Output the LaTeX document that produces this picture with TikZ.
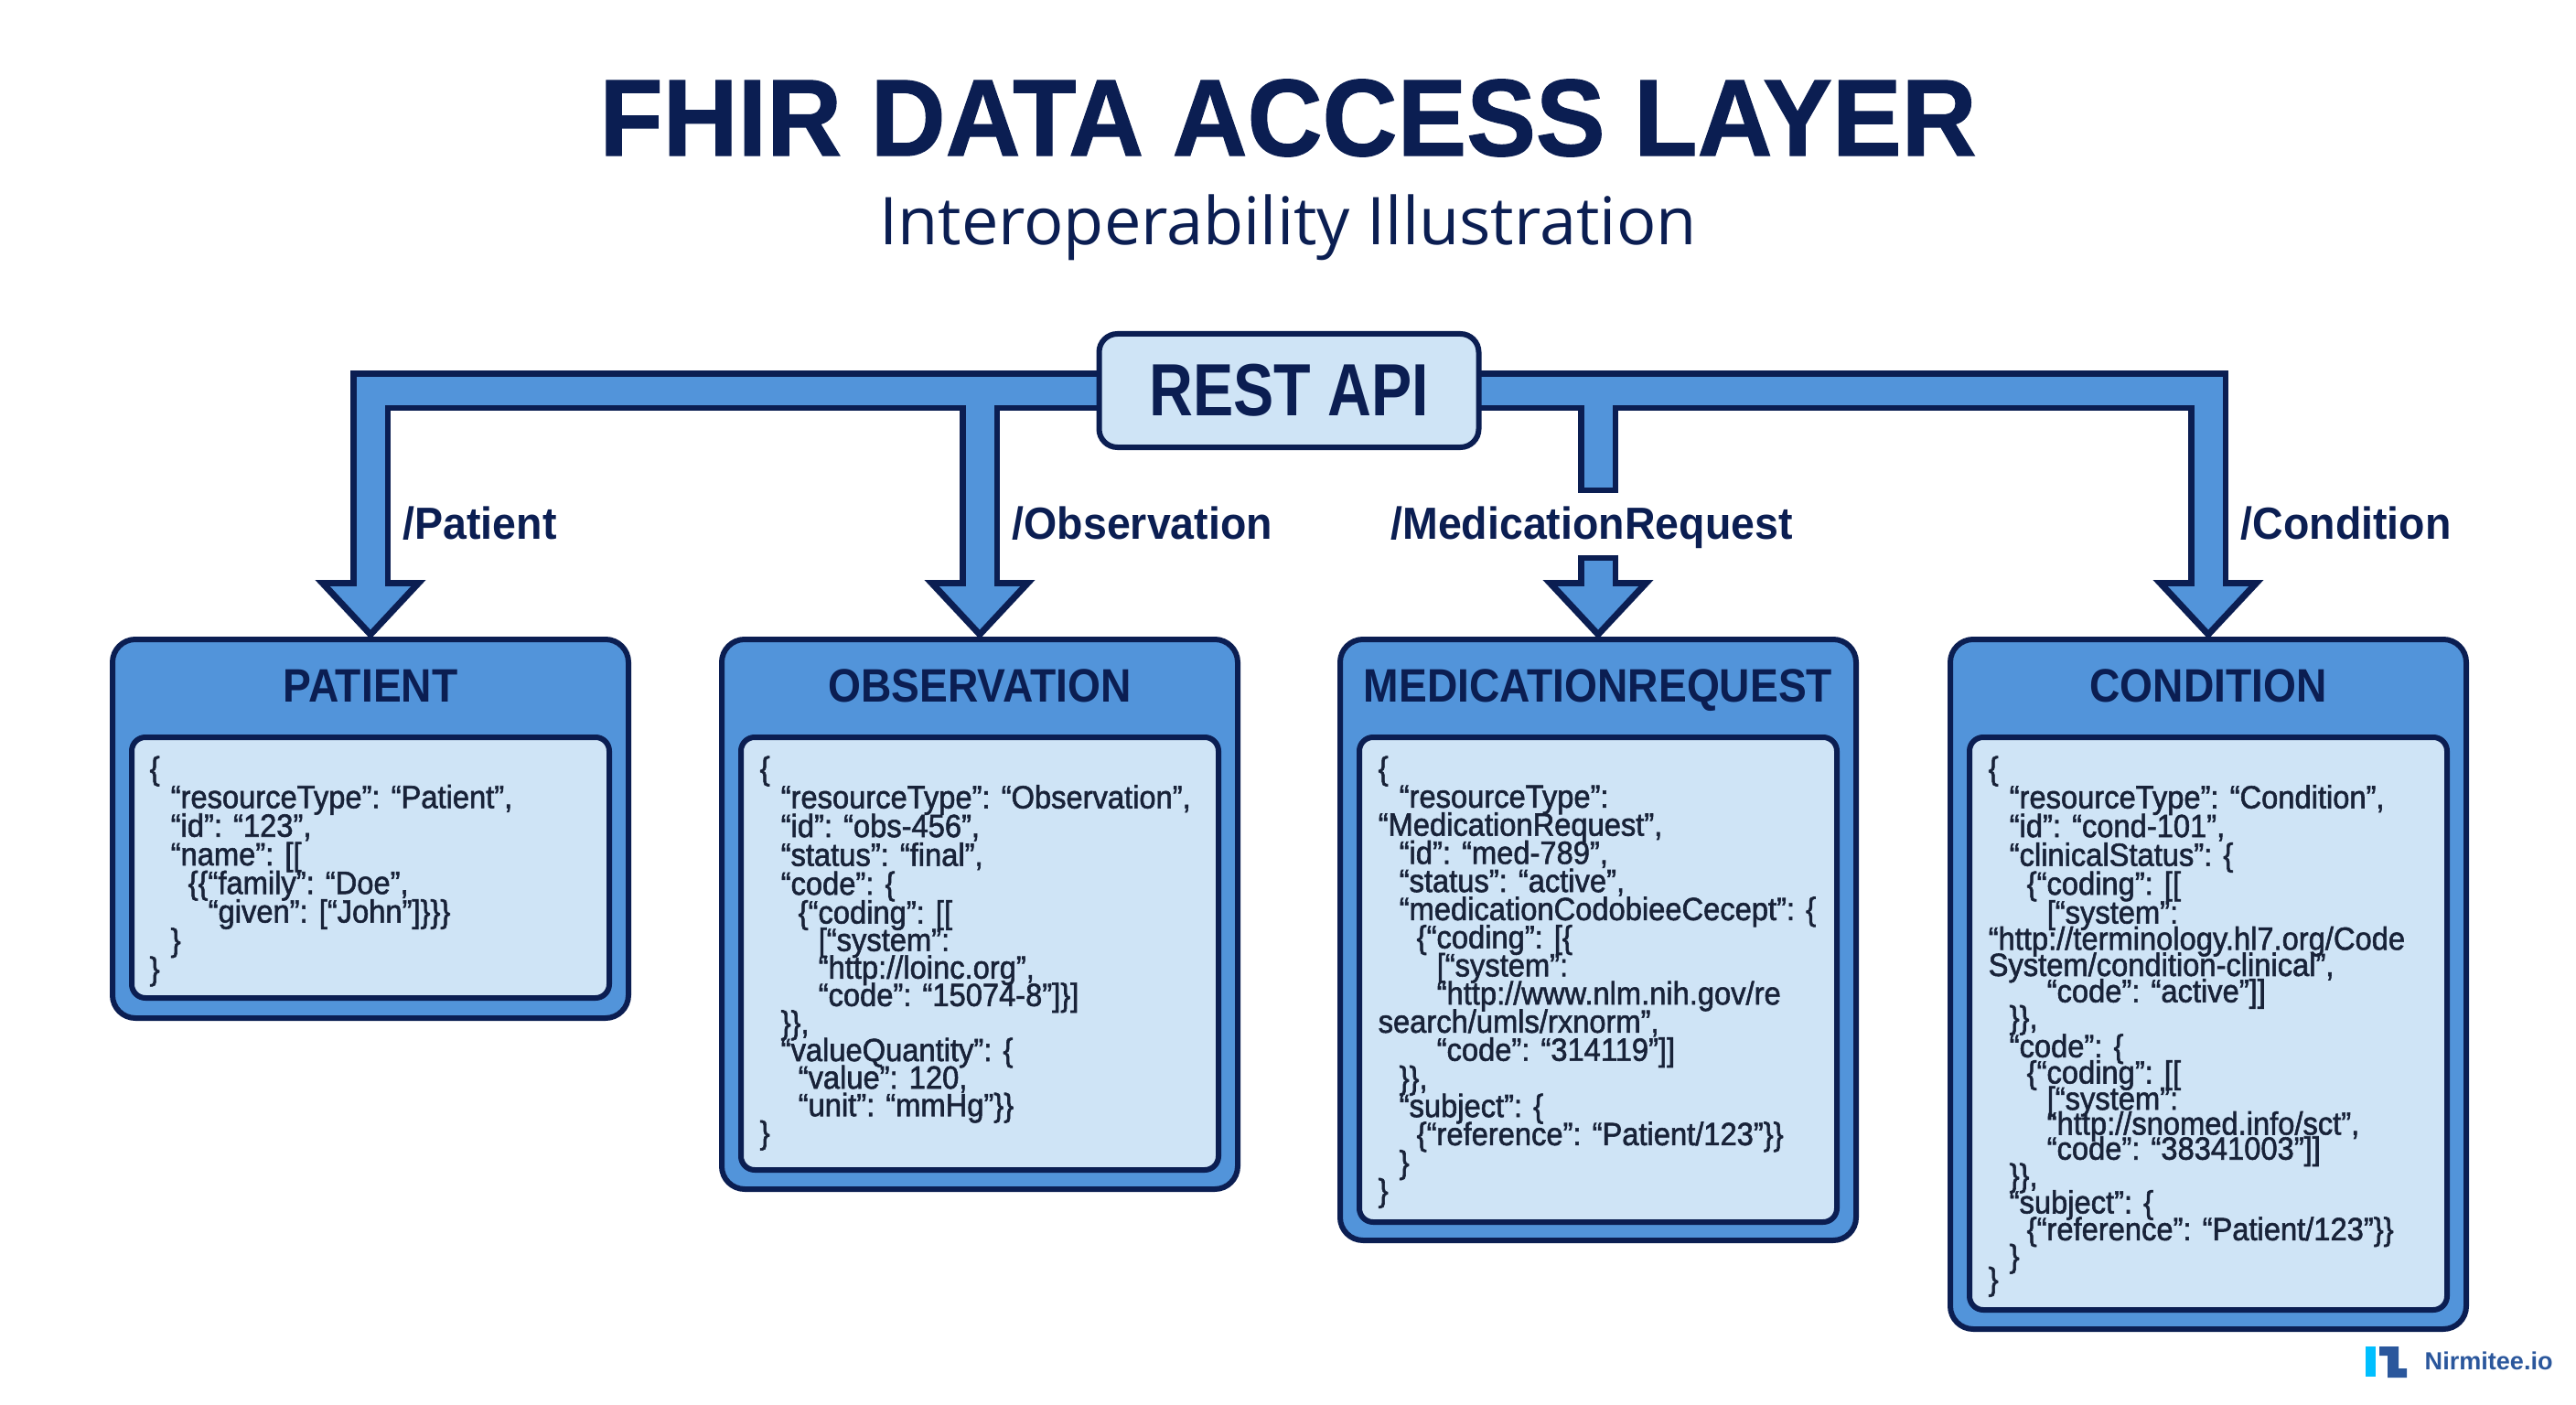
\documentclass[tikz,border=0pt]{standalone}
\usepackage{fontspec}
\setmainfont{Liberation Sans}
\newfontfamily\jsonfont[FakeStretch=0.93,FakeBold=1.6]{Liberation Sans}
\newfontfamily\headfont[FakeStretch=0.9]{Liberation Sans}
\newfontfamily\labelfont[FakeStretch=0.945]{Liberation Sans}
\newfontfamily\apifont[FakeStretch=0.82]{Liberation Sans}
\newfontfamily\titlefont[FakeStretch=0.95,FakeBold=1]{Liberation Sans}
\newfontfamily\subfont{Open Sans}
\usetikzlibrary{positioning,arrows.meta,backgrounds}
\definecolor{FhirNavy}{HTML}{0B1E52}
\definecolor{FhirBlue}{HTML}{5294DA}
\definecolor{FhirLight}{HTML}{CFE4F6}
\definecolor{FhirInk}{HTML}{182238}
\definecolor{LogoCyan}{HTML}{00BFFF}
\definecolor{LogoBlue}{HTML}{2B579C}
\newcommand{\tabA}{\hspace*{0.23cm}}
\newcommand{\tabB}{\hspace*{0.42cm}}
\newcommand{\tabC}{\hspace*{0.64cm}}
\lineskiplimit=-20pt
\normallineskiplimit=-20pt
\tikzset{
  resbox/.style={draw=FhirNavy,fill=FhirBlue,line width=0.06cm,rounded corners=0.25cm,minimum width=5.64cm,outer sep=0pt,anchor=north},
  codebox/.style={draw=FhirNavy,fill=FhirLight,line width=0.06cm,rounded corners=0.15cm,minimum width=5.22cm,outer sep=0pt,anchor=north},
  restitle/.style={text=FhirNavy,font=\headfont\bfseries\fontsize{14.6}{16}\selectfont,text height=0.40cm,text depth=0.08cm},
  pathlabel/.style={text=FhirNavy,font=\labelfont\bfseries\fontsize{14}{15}\selectfont,inner sep=0pt,text height=0.42cm,text depth=0.09cm},
  jsontext/.style={text=FhirInk,align=left,inner sep=0pt,font=\jsonfont\fontsize{10}{#1}\selectfont},
  pipeout/.style={draw=FhirNavy,line width=0.44cm},
  pipein/.style={draw=FhirBlue,line width=0.31cm},
  headout/.style={-{Triangle[width=1.17cm,length=0.65cm]}},
  headin/.style={-{Triangle[width=0.85cm,length=0.475cm]},shorten >=0.105cm}
}
\begin{document}
\begin{tikzpicture}
  \useasboundingbox (0,0) rectangle (28.16,-15.36);

  % Title
  \node[text=FhirNavy,font=\titlefont\bfseries\fontsize{34}{40}\selectfont] (title) at (14.08,-1.29) {FHIR DATA ACCESS LAYER};
  \node[text=FhirNavy,font=\subfont\fontsize{20.5}{24}\selectfont] (subtitle) at (14.08,-2.49) {Interoperability Illustration};

  % API box
  \node[draw=FhirNavy,fill=FhirLight,line width=0.06cm,rounded corners=0.2cm,minimum width=4.15cm,minimum height=1.24cm,outer sep=0pt,text=FhirNavy,font=\apifont\bfseries\fontsize{23}{26}\selectfont] (api) at (14.09,-4.27) {REST API};

  % Resource boxes
  \node[resbox,minimum height=4.14cm] (patient) at (4.05,-6.99) {};
  \node[resbox,minimum height=6.01cm] (observation) at (10.71,-6.99) {};
  \node[resbox,minimum height=6.57cm] (medication) at (17.47,-6.99) {};
  \node[resbox,minimum height=7.54cm] (condition) at (24.14,-6.99) {};

  % Box headings
  \node[restitle] (patienttitle) at (4.05,-7.51) {PATIENT};
  \node[restitle] (observationtitle) at (10.71,-7.51) {OBSERVATION};
  \node[restitle] (medicationtitle) at (17.47,-7.51) {MEDICATIONREQUEST};
  \node[restitle] (conditiontitle) at (24.14,-7.51) {CONDITION};

  % Code panels
  \node[codebox,minimum height=2.85cm] (patientcode) at (4.05,-8.06) {};
  \node[codebox,minimum height=4.73cm] (observationcode) at (10.71,-8.06) {};
  \node[codebox,minimum height=5.30cm] (medicationcode) at (17.47,-8.06) {};
  \node[codebox,minimum height=6.26cm] (conditioncode) at (24.14,-8.06) {};

  % Path labels
  \node[pathlabel,anchor=west] (patientlabel) at (4.40,-5.73) {/Patient};
  \node[pathlabel,anchor=west] (observationlabel) at (11.06,-5.73) {/Observation};
  \node[pathlabel,minimum height=0.66cm] (medicationlabel) at (17.40,-5.73) {/MedicationRequest};
  \node[pathlabel,anchor=west] (conditionlabel) at (24.49,-5.73) {/Condition};

  % JSON
  \node[jsontext=8.9pt,below right=0.2cm and 0.19cm of patientcode.north west] (patientjson) {\{\\
    \tabA“resourceType”: “Patient”,\\
    \tabA“id”: “123”,\\
    \tabA“name”: [[\\
    \tabB\{\{“family”: “Doe”,\\
    \tabC“given”: [“John”]\}\}\}\\
    \tabA\}\\
    \}};
  \node[jsontext=8.96pt,below right=0.2cm and 0.2cm of observationcode.north west] (observationjson) {\{\\
    \tabA“resourceType”: “Observation”,\\
    \tabA“id”: “obs-456”,\\
    \tabA“status”: “final”,\\
    \tabA“code”: \{\\
    \tabB\{“coding”: [[\\[-0.4pt]
    \tabC[“system”:\\[-0.4pt]
    \tabC“http://loinc.org”,\\[-0.4pt]
    \tabC“code”: “15074-8”]\}]\\[-0.4pt]
    \tabA\}\},\\[-0.4pt]
    \tabA“valueQuantity”: \{\\[-0.4pt]
    \tabB“value”: 120,\\[-0.4pt]
    \tabB“unit”: “mmHg”\}\}\\[-0.4pt]
    \}};
  \node[jsontext=8.75pt,below right=0.2cm and 0.2cm of medicationcode.north west] (medicationjson) {\{\\
    \tabA“resourceType”:\\
    “MedicationRequest”,\\
    \tabA“id”: “med-789”,\\
    \tabA“status”: “active”,\\
    \tabA“medicationCodobieeCecept”: \{\\
    \tabB\{“coding”: [\{\\
    \tabC[“system”:\\
    \tabC“http://www.nlm.nih.gov/re\\
    search/umls/rxnorm”,\\
    \tabC“code”: “314119”]]\\
    \tabA\}\},\\
    \tabA“subject”: \{\\
    \tabB\{“reference”: “Patient/123”\}\}\\
    \tabA\}\\
    \}};
  \node[jsontext=8.96pt,below right=0.2cm and 0.2cm of conditioncode.north west] (conditionjson) {\{\\
    \tabA“resourceType”: “Condition”,\\
    \tabA“id”: “cond-101”,\\
    \tabA“clinicalStatus”: \{\\
    \tabB\{“coding”: [[\\
    \tabC[“system”:\\[-0.8pt]
    “http://terminology.hl7.org/Code\\[-0.8pt]
    System/condition-clinical”,\\[-0.8pt]
    \tabC“code”: “active”]]\\[-0.8pt]
    \tabA\}\},\\
    \tabA“code”: \{\\[-0.8pt]
    \tabB\{“coding”: [[\\[-0.8pt]
    \tabC[“system”:\\[-1.2pt]
    \tabC“http://snomed.info/sct”,\\[-1.2pt]
    \tabC“code”: “38341003”]]\\[-0.6pt]
    \tabA\}\},\\[-0.6pt]
    \tabA“subject”: \{\\[-0.6pt]
    \tabB\{“reference”: “Patient/123”\}\}\\[-0.6pt]
    \tabA\}\\[-1.8pt]
    \}};

  % Arrows, behind the boxes
  \begin{scope}[on background layer]
    \draw[pipeout,headout] (api.west) -| (patient.north);
    \draw[pipeout,headout] (api.west -| observation.north) -- (observation.north);
    \draw[pipeout,headout] (api.east) -| (condition.north);
    \draw[pipeout] (api.east -| medication.north) -- (medicationlabel.north -| medication.north);
    \draw[pipeout,headout] (medicationlabel.south -| medication.north) -- (medication.north);
    \draw[pipein,headin] (api.west) -| (patient.north);
    \draw[pipein,headin] (api.west -| observation.north) -- (observation.north);
    \draw[pipein,headin] (api.east) -| (condition.north);
    \draw[pipein,shorten >=0.06cm] (api.east -| medication.north) -- (medicationlabel.north -| medication.north);
    \draw[pipein,headin,shorten <=0.06cm] (medicationlabel.south -| medication.north) -- (medication.north);
  \end{scope}

  % Logo
  \fill[LogoCyan] (25.86,-14.72) rectangle (25.97,-15.05);
  \fill[LogoBlue] (26.01,-14.72) -- (26.22,-14.72) -- (26.22,-14.96) -- (26.31,-14.96) -- (26.31,-15.06) -- (26.10,-15.06) -- (26.10,-14.82) -- (26.01,-14.82) -- cycle;
  \node[text=LogoBlue,font=\bfseries\fontsize{7.7}{10}\selectfont,anchor=west,inner sep=0pt] (logotext) at (26.50,-14.88) {Nirmitee.io};
\end{tikzpicture}
\end{document}
